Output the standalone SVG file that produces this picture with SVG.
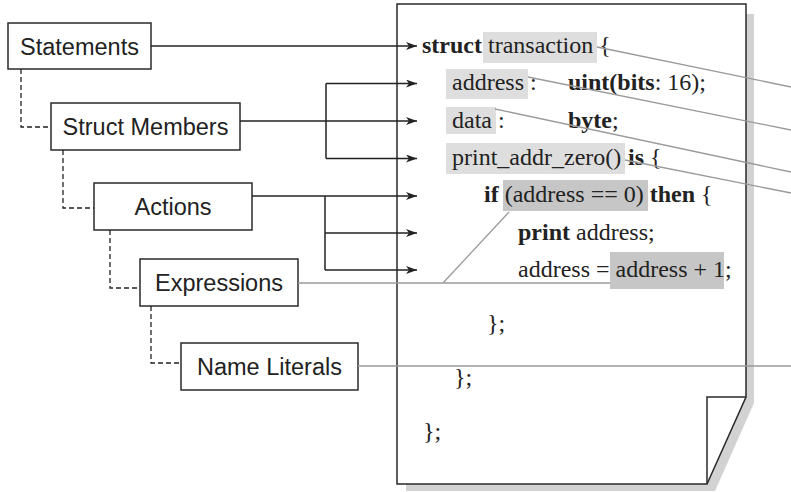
<svg xmlns="http://www.w3.org/2000/svg" width="791" height="492" viewBox="0 0 791 492">
<style>
.box{fill:#fff;stroke:#2a2a2a;stroke-width:1.5}
.lbl{font-family:"Liberation Sans",Arial,sans-serif;font-size:23.5px;fill:#222;text-anchor:middle}
.code{font-family:"Liberation Serif","Times New Roman",serif;font-size:24px;fill:#222}
.b{font-weight:bold}
.hl{fill:#dedede}
.hd{fill:#c6c6c6}
.conn{fill:none;stroke:#222;stroke-width:1.5}
.dash{fill:none;stroke:#222;stroke-width:1.3;stroke-dasharray:5 3}
.gray{fill:none;stroke:#9a9a9a;stroke-width:1.3}
</style>
<defs>
<marker id="arr" markerUnits="userSpaceOnUse" markerWidth="12" markerHeight="10" refX="11" refY="4" orient="auto">
<path d="M0,0 L11,4 L0,8 L3,4 z" fill="#222"/>
</marker>
</defs>
<g id="page">
<polygon points="406,14 754,14 754,403 715,491 406,491" fill="#d2d2d2"/>
<polygon points="397,4 746,4 746,397 707,484 397,484" fill="#fff" stroke="#2a2a2a" stroke-width="1.5"/>
<polyline points="746,397 707,397 707,484" fill="none" stroke="#2a2a2a" stroke-width="1.5"/>
</g>
<g id="code">
<rect class="hl" x="483" y="32" width="114" height="31"/>
<rect class="hl" x="446" y="69" width="82" height="30"/>
<rect class="hl" x="446" y="107" width="50" height="27"/>
<rect class="hl" x="446" y="143" width="179" height="31"/>
<rect class="hd" x="503" y="180" width="145" height="31"/>
<rect class="hd" x="610" y="252" width="114" height="37"/>
<text class="code" x="422" y="53"><tspan class="b">struct</tspan> transaction {</text>
<text class="code" x="452" y="90">address</text>
<text class="code" x="530" y="90">:</text>
<text class="code" x="568" y="90"><tspan class="b">uint(bits</tspan>: 16);</text>
<text class="code" x="452" y="128">data</text>
<text class="code" x="498" y="128">:</text>
<text class="code" x="568" y="128"><tspan class="b">byte</tspan>;</text>
<text class="code" x="452" y="165">print_addr_zero()</text>
<text class="code" x="628" y="165"><tspan class="b">is</tspan> {</text>
<text class="code" x="484" y="202"><tspan class="b">if</tspan> (address == 0) <tspan class="b">then</tspan> {</text>
<text class="code" x="518" y="240"><tspan class="b">print</tspan> address;</text>
<text class="code" x="518" y="277">address = address + 1;</text>
<text class="code" x="487" y="331">};</text>
<text class="code" x="454" y="385">};</text>
<text class="code" x="423" y="439">};</text>
</g>
<g id="n-statements"><rect class="box" x="8" y="23" width="143" height="46"/><text class="lbl" x="79.5" y="54.5">Statements</text></g>
<g id="n-struct-members"><rect class="box" x="51" y="103" width="189" height="47"/><text class="lbl" x="145.5" y="135">Struct Members</text></g>
<g id="n-actions"><rect class="box" x="94" y="183" width="158" height="47"/><text class="lbl" x="173" y="215">Actions</text></g>
<g id="n-expressions"><rect class="box" x="140" y="259" width="158" height="47"/><text class="lbl" x="219" y="291">Expressions</text></g>
<g id="n-name-literals"><rect class="box" x="181" y="343" width="177" height="47"/><text class="lbl" x="269.5" y="375">Name Literals</text></g>
<g id="connectors">
<path class="dash" d="M21,69 V127 H51"/>
<path class="dash" d="M63,150 V208 H94"/>
<path class="dash" d="M110,230 V288 H140"/>
<path class="dash" d="M151,306 V363 H181"/>
<path class="conn" d="M151,46 H417" marker-end="url(#arr)"/>
<path class="conn" d="M240,121 H326"/>
<path class="conn" d="M326,83.5 V158.5"/>
<path class="conn" d="M326,83.5 H417" marker-end="url(#arr)"/>
<path class="conn" d="M326,121 H417" marker-end="url(#arr)"/>
<path class="conn" d="M326,158.5 H417" marker-end="url(#arr)"/>
<path class="conn" d="M252,196 H325"/>
<path class="conn" d="M325,196 V270"/>
<path class="conn" d="M325,196 H417" marker-end="url(#arr)"/>
<path class="conn" d="M325,233 H417" marker-end="url(#arr)"/>
<path class="conn" d="M325,270 H417" marker-end="url(#arr)"/>
<path class="gray" d="M298,283 H610"/>
<path class="gray" d="M443,283 L509,212"/>
<path class="gray" d="M358,366 H791"/>
<path class="gray" d="M597,47 L791,87"/>
<path class="gray" d="M528,77 L791,130"/>
<path class="gray" d="M495,109 L791,172"/>
<path class="gray" d="M625,160 L791,193"/>
</g>
</svg>
